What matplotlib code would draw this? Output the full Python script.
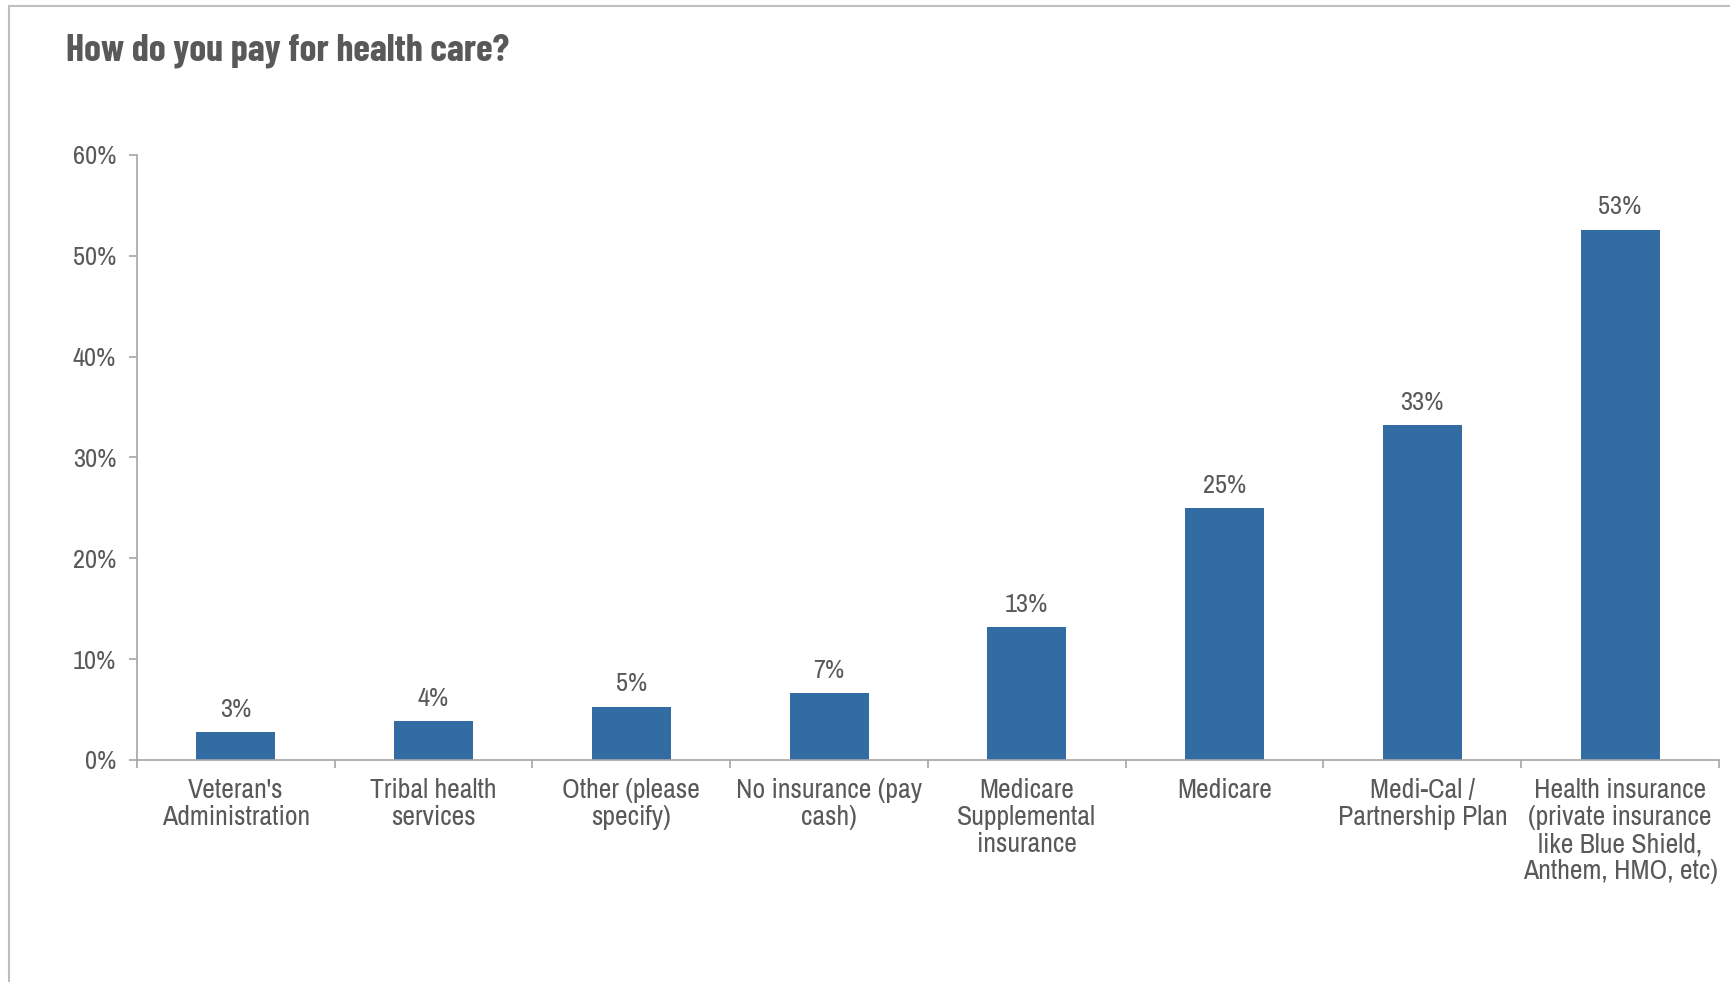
import matplotlib.pyplot as plt
from matplotlib.lines import Line2D

# data
categories = ["Veteran's\nAdministration", "Tribal health\nservices", "Other (please\nspecify)",
              "No insurance (pay\ncash)", "Medicare\nSupplemental\ninsurance", "Medicare",
              "Medi-Cal /\nPartnership Plan",
              "Health insurance\n(private insurance\nlike Blue Shield,\nAnthem, HMO, etc)"]
values = [2.8, 3.9, 5.3, 6.6, 13.2, 25.0, 33.2, 52.6]
yticks = [0, 10, 20, 30, 40, 50, 60]

text_col = '#595959'
axis_col = '#a6a6a6'
bar_col = '#336ca3'
lab_font = 'Archivo Narrow'

fig = plt.figure(figsize=(17.3, 9.82), dpi=100)
ax = fig.add_axes([0.0792, 0.2261, 0.9144, 0.6161])

x = range(len(values))
ax.bar(x, values, width=0.4, color=bar_col, zorder=2)
for xi, v in zip(x, values):
    ax.annotate(f'{v:.0f}%', (xi, v), xytext=(0, 8), textcoords='offset points',
                ha='center', va='bottom', fontsize=19, color=text_col, family=lab_font)

ax.set_xlim(-0.5, len(values) - 0.5)
ax.set_ylim(0, 60)
ax.set_yticks(yticks)
ax.set_yticklabels([f'{t}%' for t in yticks], fontsize=19, color=text_col, family=lab_font)

ax.set_xticks(list(x))
ax.set_xticklabels(categories, fontsize=20, color=text_col, family=lab_font, linespacing=1.1)
ax.tick_params(axis='x', which='major', length=0, pad=13)
ax.set_xticks([i - 0.5 for i in range(len(values) + 1)], minor=True)
ax.tick_params(axis='x', which='minor', length=6, color=axis_col, width=1.2)
ax.tick_params(axis='y', length=6, color=axis_col, width=1.2, pad=9)

for s in ['top', 'right']:
    ax.spines[s].set_visible(False)
for s in ['left', 'bottom']:
    ax.spines[s].set_color(axis_col)
    ax.spines[s].set_linewidth(1.2)

fig.text(0.038, 0.938, 'How do you pay for health care?', fontsize=27.4, fontweight='bold',
         color=text_col, family='Barlow Condensed')

# outer frame (left and top edge visible)
fig.add_artist(Line2D([0.0052, 0.0052], [0, 0.994], color='#bfbfbf', lw=1.5, transform=fig.transFigure))
fig.add_artist(Line2D([0.0052, 1], [0.994, 0.994], color='#bfbfbf', lw=1.5, transform=fig.transFigure))

fig.savefig('out.png', dpi=100)
